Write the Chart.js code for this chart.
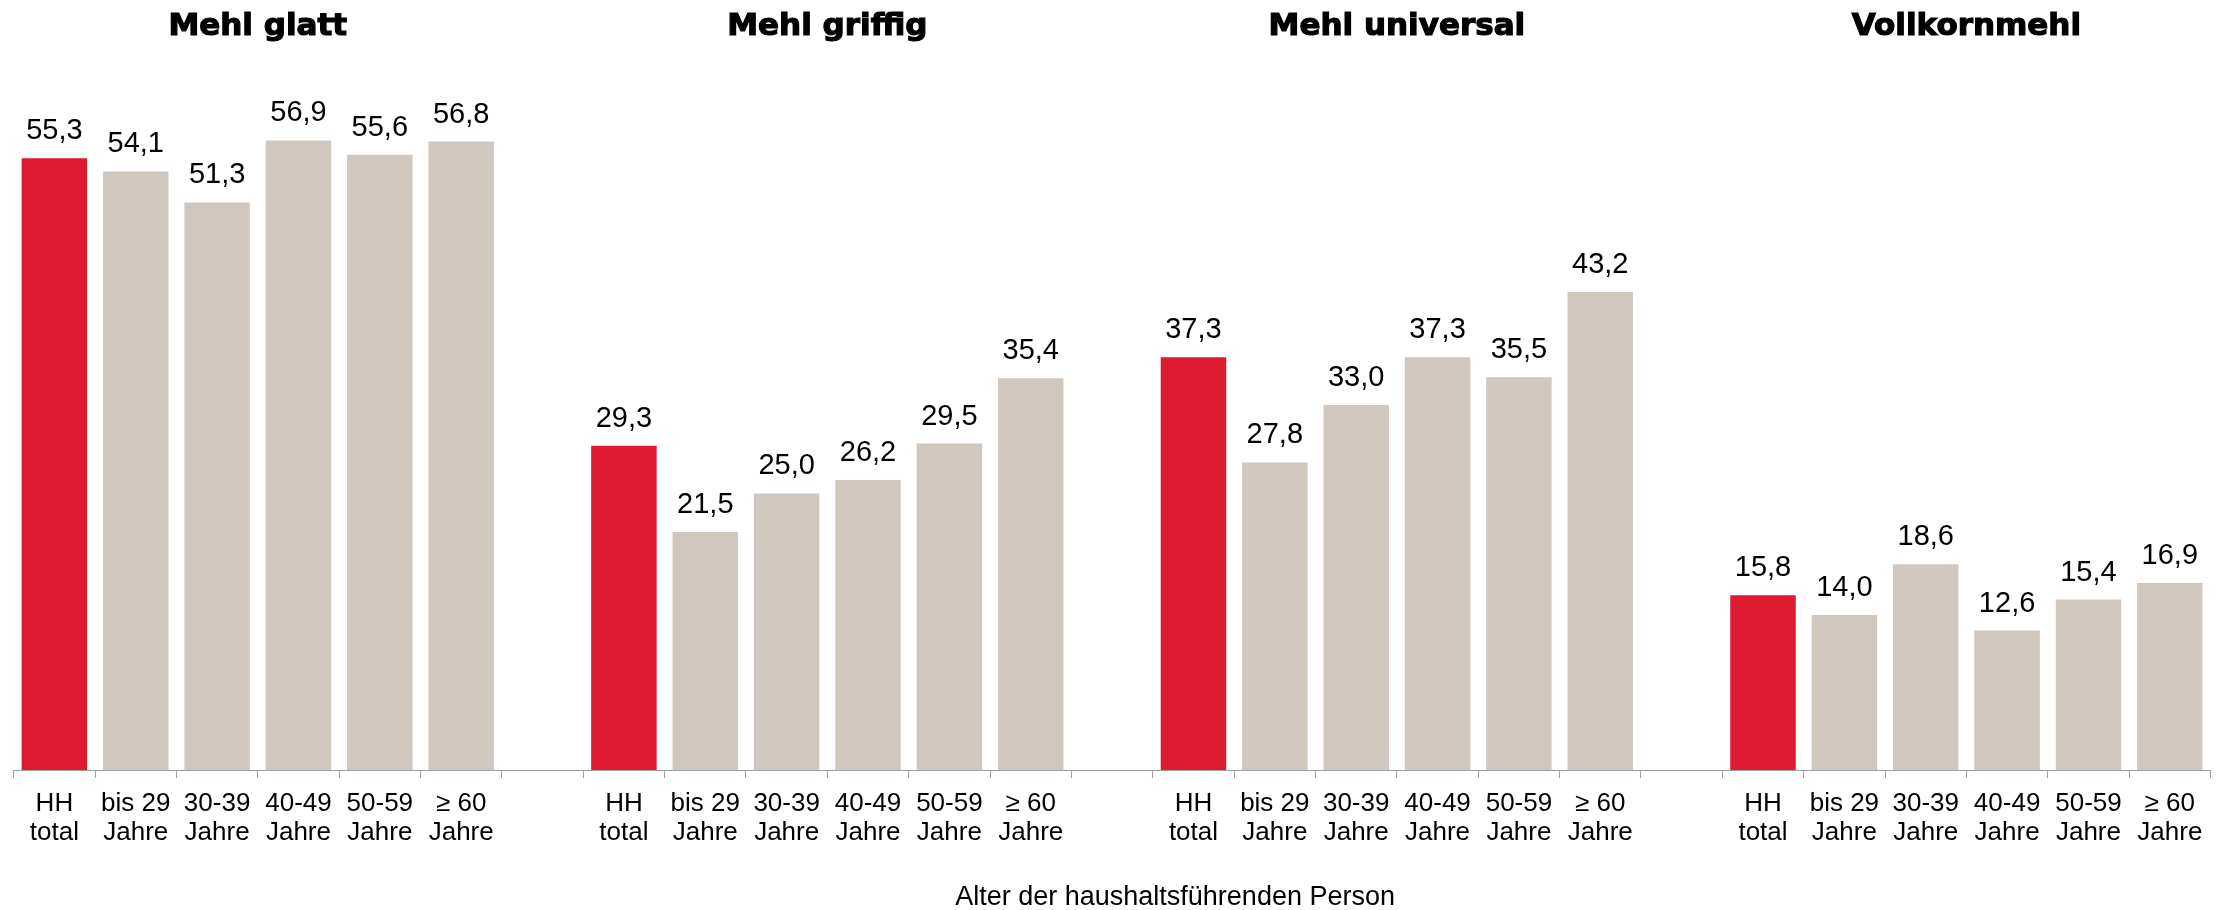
<!DOCTYPE html>
<html>
<head>
<meta charset="utf-8">
<script src="https://cdn.jsdelivr.net/npm/chart.js@4"></script>
<style>
  body { margin: 0; background: #fff; }
  #wrap { width: 2229px; height: 910px; position: relative; }
</style>
</head>
<body>
<div id="wrap"><canvas id="mehl"></canvas></div>
<script>
// group titles and age brackets
var groups = ["Mehl glatt", "Mehl griffig", "Mehl universal", "Vollkornmehl"];
var ageLabels = [["HH", "total"], ["bis 29", "Jahre"], ["30-39", "Jahre"], ["40-49", "Jahre"], ["50-59", "Jahre"], ["\u2265 60", "Jahre"]];

// values per group (HH total first)
var mehlGlatt     = [55.3, 54.1, 51.3, 56.9, 55.6, 56.8];
var mehlGriffig   = [29.3, 21.5, 25.0, 26.2, 29.5, 35.4];
var mehlUniversal = [37.3, 27.8, 33.0, 37.3, 35.5, 43.2];
var vollkornmehl  = [15.8, 14.0, 18.6, 12.6, 15.4, 16.9];

var axisTitle = "Alter der haushaltsführenden Person";

var red = "#DC1B30";
var beige = "#D0C8BF";

// build one category axis, with an empty slot between the groups
var allValues = [mehlGlatt, mehlGriffig, mehlUniversal, vollkornmehl];
var labels = [];
var values = [];
var colors = [];
allValues.forEach(function(arr, g) {
    if (g > 0) {
        labels.push("");
        values.push(null);
        colors.push(beige);
    }
    arr.forEach(function(v, i) {
        labels.push(ageLabels[i]);
        values.push(v);
        colors.push(i === 0 ? red : beige);
    });
});

function fmt(v) {
    return v.toFixed(1).replace(".", ",");
}

var extrasPlugin = {
    id: "extras",
    afterDatasetsDraw: function(chart) {
        var ctx = chart.ctx;
        var meta = chart.getDatasetMeta(0);
        var xScale = chart.scales.x;

        ctx.save();
        // value labels above bars
        ctx.fillStyle = "#000";
        ctx.font = "29px 'Liberation Sans', Arial, sans-serif";
        ctx.textAlign = "center";
        ctx.textBaseline = "alphabetic";
        meta.data.forEach(function(bar, i) {
            if (values[i] === null) return;
            ctx.fillText(fmt(values[i]), bar.x, bar.y - 19);
        });

        // group titles, centered over each group
        ctx.font = "bold 31px 'DejaVu Sans', sans-serif";
        ctx.lineWidth = 1.2;
        ctx.strokeStyle = "#000";
        groups.forEach(function(t, g) {
            var first = g * 7;
            var x = (xScale.getPixelForValue(first) + xScale.getPixelForValue(first + 5)) / 2;
            ctx.fillText(t, x, 35);
            ctx.strokeText(t, x, 35);
        });

        // axis title
        ctx.font = "27px 'Liberation Sans', Arial, sans-serif";
        var cx = (chart.chartArea.left + chart.chartArea.right) / 2 + 63;
        ctx.fillText(axisTitle, cx, 905);
        ctx.restore();
    }
};

new Chart(document.getElementById("mehl"), {
    type: "bar",
    data: {
        labels: labels,
        datasets: [{
            data: values,
            backgroundColor: colors,
            borderWidth: 0,
            categoryPercentage: 1.0,
            barPercentage: 0.805
        }]
    },
    options: {
        responsive: true,
        maintainAspectRatio: false,
        animation: false,
        events: [],
        layout: {
            padding: { left: 13.7, right: 18.5, top: 50.8, bottom: 52 }
        },
        plugins: {
            legend: { display: false },
            tooltip: { enabled: false },
            title: { display: false }
        },
        scales: {
            x: {
                offset: true,
                grid: {
                    offset: true,
                    drawOnChartArea: false,
                    drawTicks: true,
                    tickLength: 8,
                    color: "#a0a0a0"
                },
                border: { display: true, color: "#a0a0a0", width: 1 },
                ticks: {
                    autoSkip: false,
                    maxRotation: 0,
                    minRotation: 0,
                    padding: 11,
                    color: "#000",
                    font: { family: "'Liberation Sans', Arial, sans-serif", size: 26, lineHeight: 1.115 }
                }
            },
            y: {
                display: false,
                min: 0,
                max: 65
            }
        }
    },
    plugins: [extrasPlugin]
});
</script>
</body>
</html>
